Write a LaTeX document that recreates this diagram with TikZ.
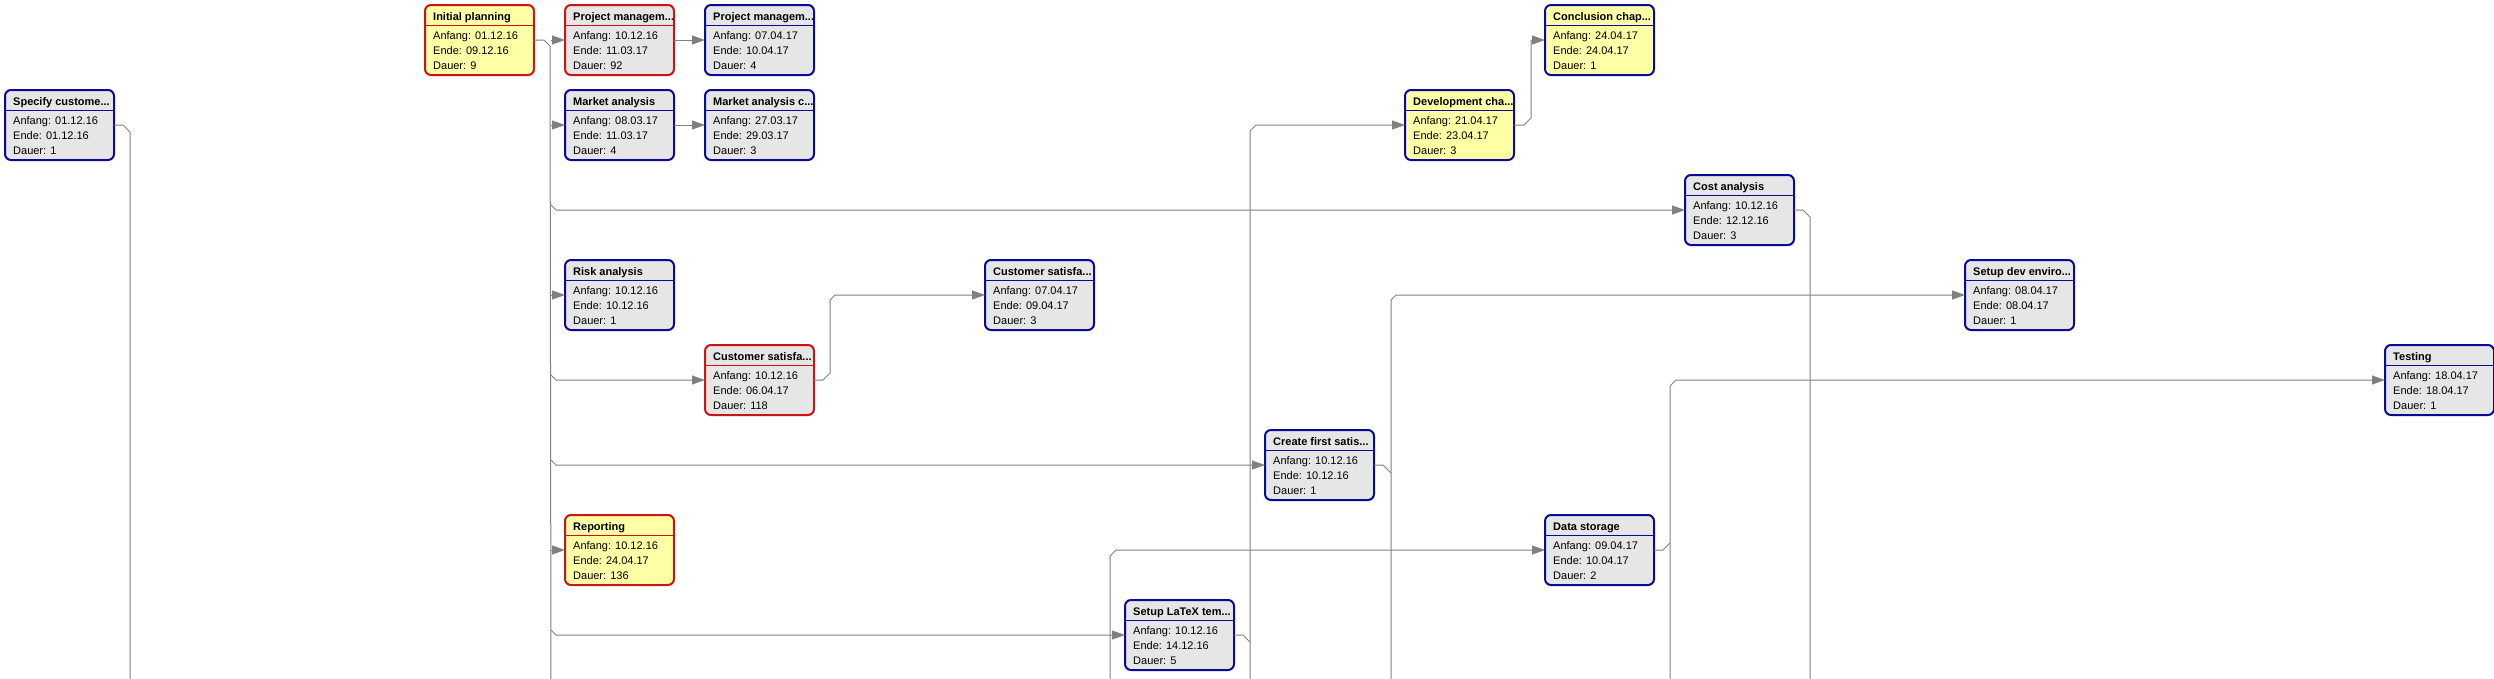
\documentclass[tikz,border=0pt]{standalone}
\usepackage{fontspec}
\setmainfont{Liberation Sans}
\usetikzlibrary{arrows.meta,calc}
\definecolor{boxblue}{RGB}{10,10,150}
\definecolor{boxred}{RGB}{205,20,20}
\definecolor{greyfill}{RGB}{230,230,230}
\definecolor{yellowfill}{RGB}{255,255,165}
\definecolor{linegrey}{RGB}{128,128,128}
\tikzset{
  taskbox/.style={rectangle, rounded corners=6pt, line width=2pt, minimum width=109pt,
    minimum height=70pt, inner sep=0pt, outer sep=0pt, anchor=north west},
  sepline/.style={line width=1pt},
  txt/.style={anchor=base west, inner sep=0pt, font=\fontsize{11}{13}\selectfont},
  ttl/.style={txt, font=\fontsize{11}{13}\selectfont\bfseries},
  wire/.style={draw=linegrey, line width=1pt},
  arr/.style={wire, -{Triangle[length=13pt,width=9pt]}}
}
\newcommand{\tasknode}[9]{%
  \node[taskbox, fill=#4, draw=#5] (#1) at ({5+140*#2},{5+85*#3}) {};
  \draw[sepline, draw=#5] ([yshift=-20pt]#1.north west) -- ([yshift=-20pt]#1.north east);
  \node[ttl] (#1-t) at ([xshift=8pt,yshift=-15pt]#1.north west) {#6};
  \node[txt] (#1-a) at ([xshift=8pt,yshift=-34pt]#1.north west) {Anfang: #7};
  \node[txt] (#1-e) at ([xshift=8pt,yshift=-49pt]#1.north west) {Ende: #8};
  \node[txt] (#1-d) at ([xshift=8pt,yshift=-64pt]#1.north west) {Dauer: #9};
}
\begin{document}
\begin{tikzpicture}[x=1pt,y=-1pt]
\fill[white] (0,0) rectangle (2494,678);
\useasboundingbox (0,0) rectangle (2494,678);

\tasknode{spec}{0}{1}{greyfill}{boxblue}{Specify custome...}{01.12.16}{01.12.16}{1}
\tasknode{ip}{3}{0}{yellowfill}{boxred}{Initial planning}{01.12.16}{09.12.16}{9}
\tasknode{pm1}{4}{0}{greyfill}{boxred}{Project managem...}{10.12.16}{11.03.17}{92}
\tasknode{pm2}{5}{0}{greyfill}{boxblue}{Project managem...}{07.04.17}{10.04.17}{4}
\tasknode{ma}{4}{1}{greyfill}{boxblue}{Market analysis}{08.03.17}{11.03.17}{4}
\tasknode{mac}{5}{1}{greyfill}{boxblue}{Market analysis c...}{27.03.17}{29.03.17}{3}
\tasknode{cost}{12}{2}{greyfill}{boxblue}{Cost analysis}{10.12.16}{12.12.16}{3}
\tasknode{risk}{4}{3}{greyfill}{boxblue}{Risk analysis}{10.12.16}{10.12.16}{1}
\tasknode{csr}{5}{4}{greyfill}{boxred}{Customer satisfa...}{10.12.16}{06.04.17}{118}
\tasknode{csb}{7}{3}{greyfill}{boxblue}{Customer satisfa...}{07.04.17}{09.04.17}{3}
\tasknode{cfs}{9}{5}{greyfill}{boxblue}{Create first satis...}{10.12.16}{10.12.16}{1}
\tasknode{rep}{4}{6}{yellowfill}{boxred}{Reporting}{10.12.16}{24.04.17}{136}
\tasknode{latex}{8}{7}{greyfill}{boxblue}{Setup LaTeX tem...}{10.12.16}{14.12.16}{5}
\tasknode{ds}{11}{6}{greyfill}{boxblue}{Data storage}{09.04.17}{10.04.17}{2}
\tasknode{dev}{10}{1}{yellowfill}{boxblue}{Development cha...}{21.04.17}{23.04.17}{3}
\tasknode{conc}{11}{0}{yellowfill}{boxblue}{Conclusion chap...}{24.04.17}{24.04.17}{1}
\tasknode{sde}{14}{3}{greyfill}{boxblue}{Setup dev enviro...}{08.04.17}{08.04.17}{1}
\tasknode{test}{17}{4}{greyfill}{boxblue}{Testing}{18.04.17}{18.04.17}{1}

% bus from Initial planning
\coordinate (bus) at (551,0);
\coordinate (busbot) at (551,690);
\draw[wire] (ip.east) -- ++(10,0) -- ++(6,6) -- (busbot);
\draw[arr] (bus |- pm1.west) -- (pm1.west);
\draw[arr] (bus |- ma.west) -- (ma.west);
\draw[arr] ($(bus |- cost.west)+(0,-5)$) -- ($(bus |- cost.west)+(5,0)$) -- (cost.west);
\draw[arr] (bus |- risk.west) -- (risk.west);
\draw[arr] ($(bus |- csr.west)+(0,-5)$) -- ($(bus |- csr.west)+(5,0)$) -- (csr.west);
\draw[arr] ($(bus |- cfs.west)+(0,-5)$) -- ($(bus |- cfs.west)+(5,0)$) -- (cfs.west);
\draw[arr] (bus |- rep.west) -- (rep.west);
\draw[arr] ($(bus |- latex.west)+(0,-5)$) -- ($(bus |- latex.west)+(5,0)$) -- (latex.west);

\draw[arr] (pm1.east) -- (pm2.west);
\draw[arr] (ma.east) -- (mac.west);

\draw[arr] (csr.east) -- ++(9,0) -- ++(7,-7) -- ($(csb.west)+(-155,5)$) -- ($(csb.west)+(-150,0)$) -- (csb.west);

\coordinate (specbot) at (130,690);
\draw[wire] (spec.east) -- ++(9,0) -- ++(7,7) -- (specbot);

\coordinate (devbot) at (1250,690);
\draw[arr] (devbot) -- ($(dev.west)+(-155,6)$) -- ($(dev.west)+(-149,0)$) -- (dev.west);
\draw[wire] (latex.east) -- ++(9,0) -- ++(7,7);

\draw[arr] (dev.east) -- ++(10,0) -- ++(7,-7) |- (conc.west);

\coordinate (sdebot) at (1391,690);
\draw[wire] (cfs.east) -- ++(9,0) -- ++(8,8);
\draw[arr] (sdebot) -- ($(sde.west)+(-574,5)$) -- ($(sde.west)+(-569,0)$) -- (sde.west);

\coordinate (dsbot) at (1110,690);
\draw[arr] (dsbot) -- ($(ds.west)+(-435,6)$) -- ($(ds.west)+(-429,0)$) -- (ds.west);

\coordinate (testbot) at (1670,690);
\draw[wire] (ds.east) -- ++(9,0) -- ++(7,-7);
\draw[arr] (testbot) -- ($(test.west)+(-715,6)$) -- ($(test.west)+(-709,0)$) -- (test.west);

\coordinate (costbot) at (1810,690);
\draw[wire] (cost.east) -- ++(9,0) -- ++(7,7) -- (costbot);
\end{tikzpicture}
\end{document}
